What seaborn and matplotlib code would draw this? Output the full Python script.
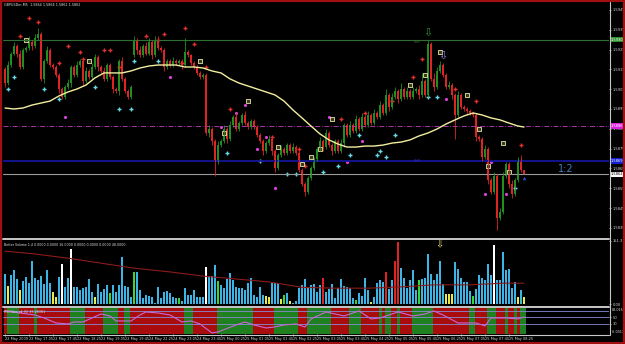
import numpy as np
import matplotlib
matplotlib.use('Agg')
import matplotlib.pyplot as plt
from matplotlib.lines import Line2D
from matplotlib.patches import Rectangle
import matplotlib.transforms as mtrans
import seaborn as sns

sns.set_theme(style='dark')
plt.rcParams['font.family'] = ['DejaVu Sans']

# prices are kept in pips above BASE
BASE = 1.58
first_open = 115
weekend_bar = 43      # first bar after the weekend gap
weekend_open = 122

closes = [108, 117, 123, 127, 123, 116, 125, 126, 129, 127,
          131, 133, 110, 119, 125, 117, 116, 112, 105, 101,
          106, 108, 116, 112, 117, 119, 109, 114, 111, 116,
          121, 116, 114, 110, 117, 111, 105, 104, 119, 110,
          104, 101, 106, 130, 125, 122, 127, 123, 129, 122,
          130, 126, 125, 116, 119, 117, 119, 118, 119, 117,
          124, 122, 118, 116, 113, 111, 112, 83, 85, 79,
          68, 77, 79, 85, 80, 87, 91, 85, 88, 92,
          88, 86, 89, 86, 82, 79, 74, 78, 80, 74,
          65, 72, 75, 73, 77, 74, 76, 73, 64, 57,
          53, 60, 65, 70, 75, 79, 76, 83, 77, 74,
          79, 74, 78, 87, 82, 87, 84, 90, 85, 91,
          87, 92, 88, 93, 91, 97, 93, 102, 96, 101,
          104, 100, 105, 101, 104, 101, 104, 105, 102, 109,
          102, 128, 110, 106, 114, 117, 112, 106, 107, 102,
          92, 102, 96, 95, 94, 93, 92, 81, 80, 71,
          75, 59, 53, 61, 40, 43, 61, 67, 57, 52,
          59, 69, 64, 62]

wick_up = [1, 2, 1, 2, 1, 2, 1, 1, 3, 1,
           2, 3, 1, 1, 2, 1, 1, 1, 1, 1,
           1, 2, 1, 1, 2, 1, 1, 2, 1, 2,
           2, 1, 1, 2, 1, 1, 1, 1, 1, 2,
           1, 1, 1, 2, 1, 2, 1, 2, 2, 1,
           2, 2, 1, 1, 1, 1, 2, 1, 1, 1,
           7, 1, 1, 1, 1, 1, 1, 1, 2, 1,
           1, 2, 1, 2, 1, 2, 1, 2, 1, 1,
           2, 1, 1, 1, 1, 1, 1, 1, 2, 1,
           1, 1, 2, 1, 1, 1, 2, 1, 1, 1,
           1, 1, 1, 1, 1, 2, 1, 2, 1, 1,
           1, 1, 2, 1, 1, 2, 1, 2, 1, 2,
           1, 2, 1, 2, 1, 2, 1, 3, 1, 2,
           2, 1, 3, 1, 2, 1, 2, 1, 2, 4,
           1, 2, 1, 3, 2, 2, 1, 1, 2, 1,
           1, 2, 1, 1, 1, 1, 1, 1, 1, 1,
           2, 1, 1, 2, 1, 2, 2, 1, 1, 2,
           1, 2, 3, 0]

wick_dn = [2, 1, 1, 1, 2, 1, 1, 1, 1, 2,
           1, 1, 1, 2, 1, 1, 1, 1, 2, 1,
           1, 1, 2, 1, 1, 1, 2, 1, 1, 1,
           1, 2, 1, 1, 1, 1, 2, 1, 2, 1,
           1, 1, 1, 1, 2, 1, 1, 1, 1, 2,
           1, 1, 1, 2, 1, 1, 1, 1, 1, 2,
           1, 1, 1, 1, 1, 1, 1, 1, 2, 2,
           7, 1, 1, 1, 2, 1, 1, 1, 1, 1,
           1, 1, 1, 1, 1, 1, 2, 1, 1, 2,
           2, 1, 1, 1, 1, 1, 1, 1, 1, 1,
           2, 1, 1, 1, 1, 1, 2, 1, 1, 2,
           1, 1, 1, 2, 1, 1, 1, 1, 1, 1,
           1, 1, 1, 1, 1, 1, 1, 1, 2, 1,
           1, 2, 1, 1, 1, 1, 1, 1, 2, 1,
           1, 1, 1, 2, 1, 1, 1, 1, 1, 2,
           12, 1, 1, 1, 1, 1, 1, 2, 1, 2,
           1, 2, 1, 1, 6, 1, 1, 1, 2, 2,
           1, 1, 1, 0]

# moving average read every third bar
ma_bars = list(range(0, 174, 3)) + [173]
ma_vals = [95.5, 95, 95.5, 97, 98, 99, 101.6, 103.6, 105.1, 107.1,
           110.7, 113.2, 113.2, 113.2, 114.2, 115.7, 116.7, 117.2, 117.2, 117.2,
           116.2, 116.2, 115.7, 114.2, 113.2, 110.2, 108.1, 106.6, 105.1, 103.6,
           102.1, 99, 94.5, 90.5, 86.4, 82.4, 79.4, 77.3, 75.8, 75.8,
           76.3, 76.3, 76.8, 77.8, 78.3, 79.4, 81.4, 82.9, 84.9, 87.4,
           89.5, 91.5, 93, 92, 90.5, 89.5, 87.9, 86.4, 85.9]

# signal markers (bar, pips)
red_cross_bar = [8, 11, 5, 21, 25, 18, 26, 33, 35, 38, 47, 51, 53, 60, 63, 59, 67,
                 75, 89, 98, 100, 112, 120, 129, 136, 139, 150, 157, 172]
red_cross_val = [141, 139, 132, 127, 124, 118, 120, 125, 125, 116, 132, 130, 133, 136, 128, 118, 116,
                 95, 81, 75, 66, 90, 93, 99, 111, 120, 105, 99, 77]
cyan_cross_bar = [3, 1, 13, 18, 30, 38, 42, 43, 51, 74, 85, 94, 97, 106, 111, 115, 118,
                  124, 125, 127, 130, 141, 144, 170]
cyan_cross_val = [111, 105, 105, 100, 106, 95, 95, 119, 119, 73, 69, 62, 62, 63, 66, 72, 82,
                  72, 74, 71, 82, 101, 101, 55]
magenta_bar = [20, 55, 72, 77, 80, 87, 84, 90, 108, 114, 119, 147, 162, 160, 167]
magenta_val = [91, 111, 86, 93, 97, 81, 75, 55, 91, 68, 79, 100, 68, 52, 52]
square_bar = [7, 28, 65, 81, 73, 91, 102, 99, 105, 109, 135, 140, 145, 154, 158, 166, 161, 168]
square_val = [130, 119, 119, 99, 83, 76, 71, 67, 75, 90, 107, 112, 124, 102, 85, 78, 66, 63]

# horizontal levels (pips)
green_level = 130
magenta_level = 86.4
blue_level = 68.7
bid_level = 62

price_ticks = [145, 135, 125, 115, 105, 95, 85, 75, 65, 55, 45, 35]

volume = [72, 43, 70, 82, 60, 34, 55, 65, 50, 103,
          62, 58, 67, 48, 82, 50, 29, 17, 65, 96,
          41, 62, 132, 41, 41, 34, 38, 41, 60, 29,
          17, 48, 29, 36, 46, 26, 46, 29, 46, 113,
          43, 41, 17, 77, 77, 34, 14, 22, 19, 17,
          2, 41, 14, 29, 31, 26, 17, 14, 14, 7,
          38, 22, 22, 34, 17, 17, 17, 89, 67, 67,
          94, 55, 46, 38, 60, 74, 58, 41, 38, 38,
          34, 50, 62, 22, 17, 41, 22, 19, 17, 50,
          50, 50, 12, 22, 26, 7, 2, 7, 38, 46,
          60, 41, 46, 48, 29, 46, 62, 29, 36, 48,
          14, 38, 60, 43, 41, 38, 14, 10, 26, 19,
          62, 34, 5, 17, 50, 58, 53, 77, 36, 58,
          103, 149, 86, 62, 38, 58, 82, 34, 58, 60,
          62, 120, 72, 58, 72, 103, 48, 24, 24, 24,
          101, 84, 62, 53, 53, 31, 19, 36, 70, 62,
          58, 96, 70, 142, 58, 58, 125, 82, 84, 38,
          53, 17, 34, 17]
vol_yellow = [1, 5, 16, 17, 30, 87, 88, 92, 95, 122, 147, 148, 149, 171, 173]
vol_white = [19, 22, 67, 163]
vol_green = [35, 43, 58, 71, 93, 117, 138, 156]
vol_red = [106, 127, 130, 131]
vol_ma_bar = [0, 10, 21, 32, 43, 55, 66, 77, 88, 99, 110, 121, 132, 143, 155, 166, 173]
vol_ma_val = [127, 120, 110, 98, 86, 77, 67, 60, 53, 40, 38, 38, 41, 46, 46, 50, 50]

rsi_bar = [0, 10, 13, 17, 21, 23, 26, 29, 32, 35, 37, 42, 45, 47, 51, 55, 59, 62, 65, 69,
           71, 77, 80, 83, 87, 90, 93, 97, 100, 102, 107, 113, 118, 122, 125, 131, 136, 140,
           143, 146, 151, 157, 160, 162, 167, 171, 173]
rsi_val = [69, 57, 48, 33, 30, 36, 36, 48, 60, 54, 39, 39, 57, 66, 63, 57, 36, 39, 30, 3,
           6, 27, 36, 27, 18, 21, 27, 30, 21, 45, 66, 54, 69, 45, 48, 66, 54, 60,
           69, 57, 33, 33, 24, 48, 48, 45, 51]
band_start = [0, 1, 5, 10, 11, 22, 27, 33, 38, 40, 42, 60, 63, 71, 83, 90, 98, 101, 109,
              115, 119, 125, 126, 127, 129, 131, 132, 136, 143, 155, 157, 161, 164, 167,
              168, 170, 171, 172]
band_color = ['r', 'g', 'r', 'g', 'r', 'g', 'r', 'g', 'r', 'g', 'r', 'g', 'r', 'g', 'r', 'g', 'r', 'g', 'r',
              'g', 'r', 'g', 'r', 'g', 'r', 'g', 'r', 'g', 'r', 'g', 'r', 'g', 'r', 'g',
              'r', 'g', 'r', 'g']
rsi_levels = [70, 50, 30]
rsi_tick_levels = [50, 30]
rsi_top_label = '88.0169'
rsi_bottom_label = '-6.0017'

time_labels = ['22 May 2009', '22 May 17:05', '22 May 17:45', '22 May 18:25', '22 May 19:05',
               '22 May 19:45', '24 May 22:25', '24 May 23:05', '24 May 23:45', '25 May 00:25',
               '25 May 01:05', '25 May 01:45', '25 May 02:25', '25 May 03:05', '25 May 03:45',
               '25 May 04:25', '25 May 05:05', '25 May 05:45', '25 May 06:25', '25 May 07:05',
               '25 May 07:45', '25 May 08:25']
time_bars = [0, 8, 16, 24, 32, 40, 48, 56, 64, 72, 80, 88, 96, 104, 112, 120, 128, 136,
             144, 152, 160, 168]


def px(v):
    return BASE + np.asarray(v, dtype=float) / 10000.0


n = len(closes)
idx = np.arange(n)
c = px(closes)
o = np.concatenate([[px(first_open)], c[:-1]])
o[weekend_bar] = px(weekend_open)
hi = np.maximum(o, c) + np.asarray(wick_up) / 10000.0
lo = np.minimum(o, c) - np.asarray(wick_dn) / 10000.0
up = c >= o
ccol = np.where(up, '#1f8f1f', '#e02424')

W, H = 625, 344
fig = plt.figure(figsize=(6.25, 3.44), dpi=100, facecolor='black')
XLIM = (-2 / 3, 201 + 1 / 3)   # 3 px per bar
BW = 0.55


def box(x0, y0, x1, y1):
    return [x0 / W, 1 - y1 / H, (x1 - x0) / W, (y1 - y0) / H]


ax_p = fig.add_axes(box(3, 2, 609, 237))
ax_v = fig.add_axes(box(3, 240, 609, 305))
ax_r = fig.add_axes(box(3, 308, 609, 334))
for ax in (ax_p, ax_v, ax_r):
    ax.set_facecolor('black')
    ax.grid(False)
    for s in ax.spines.values():
        s.set_visible(False)
    ax.set_xlim(*XLIM)
    ax.yaxis.tick_right()
    ax.tick_params(axis='y', labelsize=2.6, colors='#d8d8d8', length=1.5, width=0.5, pad=1)
    ax.tick_params(axis='x', bottom=False, labelbottom=False)

# ---- price panel
ax_p.set_ylim(px(30.4), px(149))
ax_p.axhline(px(green_level), color='#2f6f2f', lw=0.8)
ax_p.axhline(px(magenta_level), color='#c040c0', lw=0.6, ls=(0, (6, 2, 1, 2)))
ax_p.axhline(px(blue_level), color='#14149a', lw=1.3)
ax_p.axhline(px(bid_level), color='#9a9a9a', lw=0.8)

ax_p.vlines(idx, lo, hi, colors=ccol, lw=0.6)
ax_p.bar(idx, np.maximum(np.abs(c - o), 0.000025), bottom=np.minimum(o, c), width=BW,
         color=ccol, linewidth=0)

sns.lineplot(x=ma_bars, y=px(ma_vals), ax=ax_p, color='#f2eea0', lw=1.0)

sns.scatterplot(x=red_cross_bar, y=px(red_cross_val), ax=ax_p, marker='+', s=10,
                color='#e03030', linewidth=1.0, legend=False)
sns.scatterplot(x=cyan_cross_bar, y=px(cyan_cross_val), ax=ax_p, marker='+', s=10,
                color='#6ad8e8', linewidth=1.0, legend=False)
sns.scatterplot(x=magenta_bar, y=px(magenta_val), ax=ax_p, marker='o', s=5,
                color='#e040e0', linewidth=0, legend=False)
sns.scatterplot(x=square_bar, y=px(square_val), ax=ax_p, marker='s', s=6,
                facecolor='#3a3a20', edgecolor='#e8e8a8', linewidth=0.6, legend=False)
sns.scatterplot(x=[173], y=px([60]), ax=ax_p, marker='^', s=6, color='#3050e0',
                linewidth=0, legend=False)

ax_p.text(141, px(133.5), '\u21e9', color='#2f8f2f', fontsize=8, ha='center', va='center')
ax_p.text(146, px(122), '\u21e9', color='#a080e0', fontsize=8, ha='center', va='center')
ax_p.text(137.5, px(128.8), 'SSP', color='#2f6f2f', fontsize=2.6, ha='center', va='center')
ax_p.text(137.5, px(68.7), 'SSP', color='#3030b0', fontsize=2.6, ha='center', va='center')
ax_p.text(186.8, px(64.7), '1:2', color='#4a7ab8', fontsize=7, ha='center', va='center')
ax_p.text(0.002, 0.995, 'GBPUSDm,M5  1.5864 1.5864 1.5862 1.5862', transform=ax_p.transAxes,
          color='#e0e0e0', fontsize=2.4, va='top')

ax_p.set_yticks(px(price_ticks))
ax_p.set_yticklabels([f'{BASE + p / 10000:.4f}' for p in price_ticks])
trans = mtrans.blended_transform_factory(ax_p.transAxes, ax_p.transData)
for lvl, fc, tc in [(green_level, '#2f8f2f', 'white'), (magenta_level, '#e020e0', 'white'),
                    (blue_level, '#1020d0', 'white'), (bid_level, 'white', 'black')]:
    ax_p.text(1.002, px(lvl), f'{BASE + lvl / 10000:.4f}', transform=trans, fontsize=2.6,
              color=tc, va='center', ha='left',
              bbox=dict(facecolor=fc, edgecolor='none', pad=0.5))

# ---- volume panel
vcol = np.array(['#3cb4e6'] * n, dtype=object)
vcol[vol_yellow] = '#eaea4a'
vcol[vol_white] = '#ffffff'
vcol[vol_green] = '#36d836'
vcol[vol_red] = '#e02424'
ax_v.set_ylim(-2.4, 153.6)
ax_v.bar(idx, volume, width=BW, color=list(vcol), linewidth=0)
sns.lineplot(x=vol_ma_bar, y=vol_ma_val, ax=ax_v, color='#8c1c1c', lw=0.8)
ax_v.text(144.7, 142, '\u21e9', color='#f0f080', fontsize=7, ha='center', va='center')
ax_v.text(0.002, 0.96, 'Better Volume 1.4 0.0000 0.0000 16.0000 0.0000 0.0000 0.0000 48.0000',
          transform=ax_v.transAxes, color='#e0e0e0', fontsize=2.3, va='top')
ax_v.set_yticks([151.3, 0])
ax_v.set_yticklabels(['151.3', '0.00'])

# ---- RSI panel
ax_r.set_ylim(-0.1, 77.9)
edges = band_start + [n]
for k, col in enumerate(band_color):
    ax_r.axvspan(edges[k] - 0.5, edges[k + 1] - 0.5,
                 color='#a80c0c' if col == 'r' else '#1f801f', lw=0)
for lv in rsi_levels:
    ax_r.axhline(lv, color='#8a8ad8', lw=0.6)
sns.lineplot(x=rsi_bar, y=rsi_val, ax=ax_r, color='#c868d8', lw=0.8)
ax_r.text(0.002, 0.93, 'RSIFilter_v1 (5) 35.28361', transform=ax_r.transAxes,
          color='#e0e0e0', fontsize=2.3, va='top')
ax_r.set_yticks(rsi_tick_levels)
ax_r.set_yticklabels([str(v) for v in rsi_tick_levels])
ax_r.text(1.004, 1.0, rsi_top_label, transform=ax_r.transAxes, color='#d8d8d8',
          fontsize=2.4, va='top', ha='left')
ax_r.text(1.004, 0.0, rsi_bottom_label, transform=ax_r.transAxes, color='#d8d8d8',
          fontsize=2.4, va='bottom', ha='left')
ax_r.set_xticks(time_bars)
ax_r.set_xticklabels(time_labels, ha='left')
ax_r.tick_params(axis='x', bottom=True, labelbottom=True, labelsize=2.5, colors='#d8d8d8',
                 length=1.5, width=0.5, pad=0.8)
ax_r.set_xlim(*XLIM)

# ---- frame lines
for y in (238.5, 306.5):
    fig.add_artist(Line2D([3 / W, 609 / W], [1 - y / H, 1 - y / H], transform=fig.transFigure,
                          color='#c8c8c8', lw=1.4))
fig.add_artist(Line2D([3 / W, 609 / W], [1 - 335 / H, 1 - 335 / H], transform=fig.transFigure,
                      color='#c8c8c8', lw=0.8))
fig.add_artist(Line2D([609.5 / W, 609.5 / W], [1 - 2 / H, 1 - 335 / H], transform=fig.transFigure,
                      color='#c8c8c8', lw=0.8))
fig.add_artist(Rectangle((0, 0), 1, 1, transform=fig.transFigure, fill=False,
                         edgecolor='#a01010', lw=3))

fig.savefig('out.png', dpi=100, facecolor='black')
